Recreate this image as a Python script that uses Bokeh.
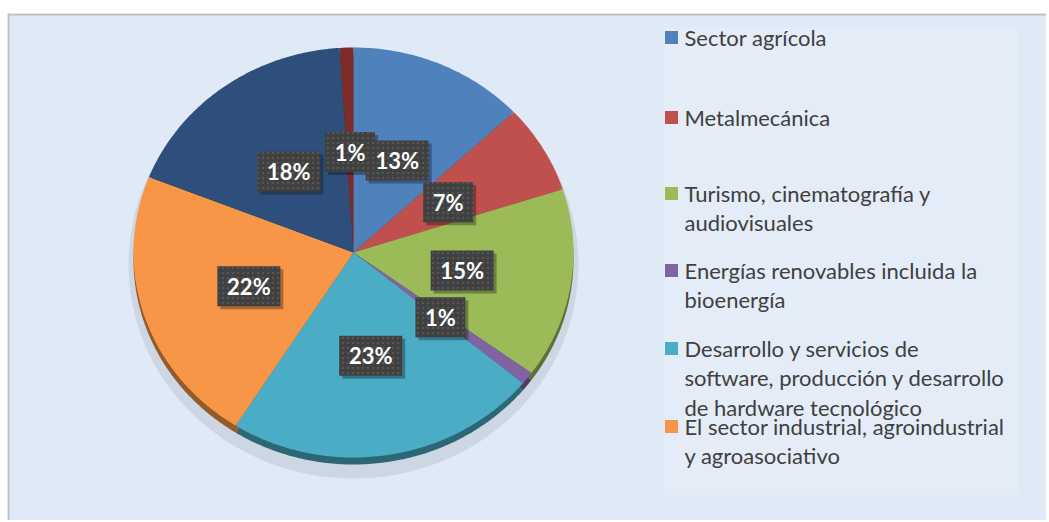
import numpy as np
from bokeh.plotting import figure
from bokeh.models import Range1d, ColumnDataSource, Span
from bokeh.core.properties import value
from bokeh.embed import file_html
from bokeh.resources import INLINE

# ---------------- data ----------------
categories = [
    "Sector agrícola",
    "Metalmecánica",
    "Turismo, cinematografía y audiovisuales",
    "Energías renovables incluida la bioenergía",
    "Desarrollo y servicios de software, producción y desarrollo de hardware tecnológico",
    "El sector industrial, agroindustrial y agroasociativo",
    "Serie 7",
    "Serie 8",
]
values = [13, 7, 15, 1, 23, 22, 18, 1]
legend_labels = [
    "Sector agrícola",
    "Metalmecánica",
    "Turismo, cinematografía y\naudiovisuales",
    "Energías renovables incluida la\nbioenergía",
    "Desarrollo y servicios de\nsoftware, producción y desarrollo\nde hardware tecnológico",
    "El sector industrial, agroindustrial\ny agroasociativo",
]
colors = ["#4F81BD", "#C0504D", "#9BBB59", "#8064A2", "#4BACC6", "#F79646", "#2E4F7C", "#7E2B29"]

# ---------------- layout (screen pixel coordinates) ----------------
W, H = 1046, 520
cx, cy = 353, 252          # pie centre
rx, ry = 220, 205          # tilted pie radii
depth = 7                  # 3D rim thickness
label_fr = 0.50            # label distance as fraction of radius
legend_y = [37, 117, 193, 270, 348, 426]
legend_sq_x, legend_tx_x = 671, 684

p = figure(width=W, height=H, output_backend="svg", toolbar_location=None,
           x_range=Range1d(7, W), y_range=Range1d(H, 13),
           min_border_left=7, min_border_right=0, min_border_bottom=0, min_border_top=13)
p.axis.visible = False
p.grid.visible = False
p.outline_line_color = None
p.background_fill_color = "#E0EAF6"
p.border_fill_color = "white"

# chart border (top & left visible in reference)
p.add_layout(Span(location=14, dimension="width", line_color="#BFBFBF", line_width=2))
p.add_layout(Span(location=8, dimension="height", line_color="#BFBFBF", line_width=2))

# faint legend panel
p.quad(left=[663], right=[1018], top=[27], bottom=[495], fill_color="white", fill_alpha=0.1, line_color=None)

vals = np.array(values, dtype=float)
total = vals.sum()
cum = np.concatenate([[0], np.cumsum(vals)]) / total * 2 * np.pi
starts, ends = cum[:-1], cum[1:]
mids = (starts + ends) / 2


def slice_pts(a0, a1, dy=0.0):
    t = np.linspace(a0, a1, max(4, int((a1 - a0) * 80)))
    xs = np.concatenate([[cx], cx + rx * np.sin(t)])
    ys = np.concatenate([[cy + dy], cy + dy - ry * np.cos(t)])
    return list(xs), list(ys)


def darker(hexc, f=0.6):
    h = hexc.lstrip("#")
    r, g, b = (int(h[i:i + 2], 16) for i in (0, 2, 4))
    return "#%02x%02x%02x" % (int(r * f), int(g * f), int(b * f))


# soft shadow
p.ellipse(x=[cx], y=[cy + 12], width=[2 * rx + 10], height=[2 * ry + 18],
          fill_color="#8a96a6", fill_alpha=0.22, line_color=None)

# 3D rim
rim_x, rim_y = zip(*[slice_pts(a, b, depth) for a, b in zip(starts, ends)])
p.patches(xs=list(rim_x), ys=list(rim_y), fill_color=[darker(c) for c in colors], line_color=None)

# top faces
xs, ys = zip(*[slice_pts(a, b) for a, b in zip(starts, ends)])
src = ColumnDataSource(dict(xs=list(xs), ys=list(ys), color=colors, cat=categories))
p.patches(xs="xs", ys="ys", fill_color="color", line_color=None, source=src)

# data labels
pct = [f"{round(v / total * 100)}%" for v in vals]
lx = cx + label_fr * rx * np.sin(mids)
ly = cy - label_fr * ry * np.cos(mids) + 2
bw = [24 + 13 * len(s) for s in pct]
p.rect(x=lx + 3, y=ly + 3, width=bw, height=40, width_units="screen", height_units="screen",
       fill_color="black", fill_alpha=0.3, line_color=None)
p.rect(x=lx, y=ly, width=bw, height=40, width_units="screen", height_units="screen",
       fill_color="#404040", line_color=None, hatch_pattern="dot", hatch_color="#555555",
       hatch_scale=5, hatch_weight=1)
p.text(x=lx, y=ly, text=pct, text_color="white", text_font=value("Lato"), text_font_style="bold",
       text_font_size="22px", text_align="center", text_baseline="middle")

# legend
n = len(legend_labels)
p.rect(x=[legend_sq_x] * n, y=legend_y, width=13, height=13, width_units="screen", height_units="screen",
       fill_color=colors[:n], line_color=None)
p.text(x=[legend_tx_x] * n, y=[v - 14 for v in legend_y], text=legend_labels, text_color="#404040",
       text_font=value("Lato"), text_font_size="22px", text_align="left", text_baseline="top",
       text_line_height=1.1)

open("out.html", "w").write(file_html(p, INLINE))
